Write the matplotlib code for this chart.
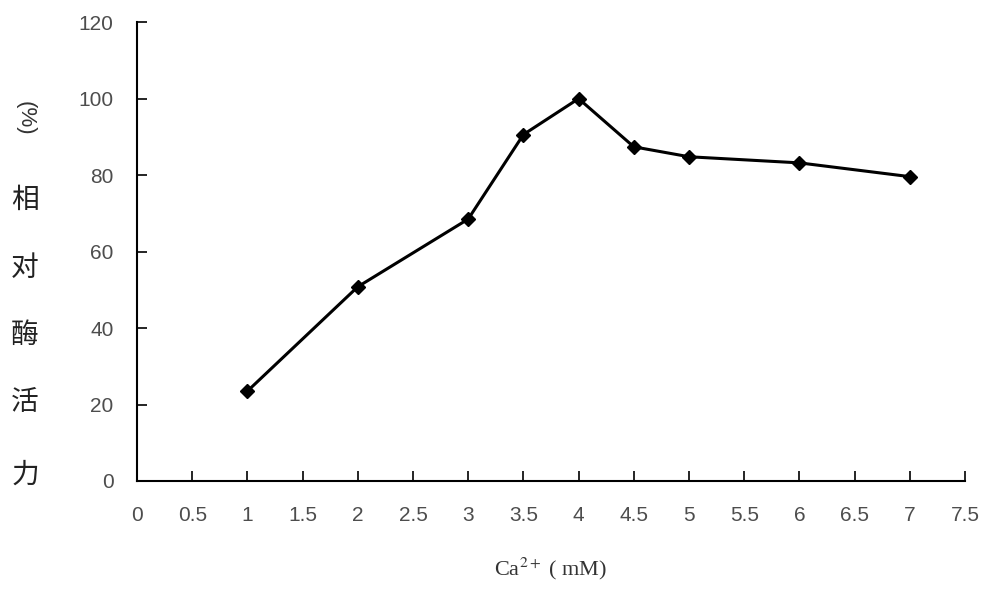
import matplotlib
matplotlib.use("Agg")
import matplotlib.pyplot as plt

# Ca2+ concentration (mM) vs relative enzyme activity (%)
ca_conc = [1, 2, 3, 3.5, 4, 4.5, 5, 6, 7]
activity = [23.5, 50.8, 68.5, 90.6, 100, 87.4, 84.8, 83.2, 79.6]

x_ticks = [0, 0.5, 1, 1.5, 2, 2.5, 3, 3.5, 4, 4.5, 5, 5.5, 6, 6.5, 7, 7.5]
y_ticks = [0, 20, 40, 60, 80, 100, 120]
ylabel_chars = ["相", "对", "酶", "活", "力"]
ylabel_ypos = [200, 268, 335, 402, 475]   # pixel rows of the stacked characters

plt.rcParams['mathtext.fontset'] = 'stix'

fig = plt.figure(figsize=(10, 5.99), dpi=100)
ax = fig.add_axes([0.137, 0.197, 0.828, 0.766])

ax.plot(ca_conc, activity, color='k', linewidth=2.2, marker='D', markersize=7)

ax.set_xlim(0, 7.5)
ax.set_ylim(0, 120)
ax.set_xticks(x_ticks)
ax.set_xticklabels([f"{t:g}" for t in x_ticks])
ax.set_yticks(y_ticks)

for side in ('top', 'right'):
    ax.spines[side].set_visible(False)
for side in ('left', 'bottom'):
    ax.spines[side].set_linewidth(1.5)
    ax.spines[side].set_color('k')

ax.tick_params(direction='in', length=7, width=1.2, colors='k',
               labelcolor='#4d4d4d', labelsize=15)
ax.tick_params(axis='x', pad=18)
ax.tick_params(axis='y', pad=17)
for lab in ax.get_xticklabels() + ax.get_yticklabels():
    lab.set_family('Liberation Sans')

ax.set_xlabel("Ca$^{2+}$ ( mM)", fontsize=16, family='Liberation Serif',
              color='#333333', labelpad=22)

# vertical y label: rotated "(%)" then stacked CJK characters
fig.text(0.025, 1 - 118 / 599, "(%)", rotation=-90, fontsize=16, ha='center', va='center',
         color='#333333', family='Liberation Sans')
for ch, py in zip(ylabel_chars, ylabel_ypos):
    fig.text(0.025, 1 - py / 599, ch, fontsize=20, ha='center', va='center',
             family=['Noto Sans CJK SC', 'DejaVu Sans'], weight='medium', color='#222222')

fig.savefig("out.png", dpi=100)
